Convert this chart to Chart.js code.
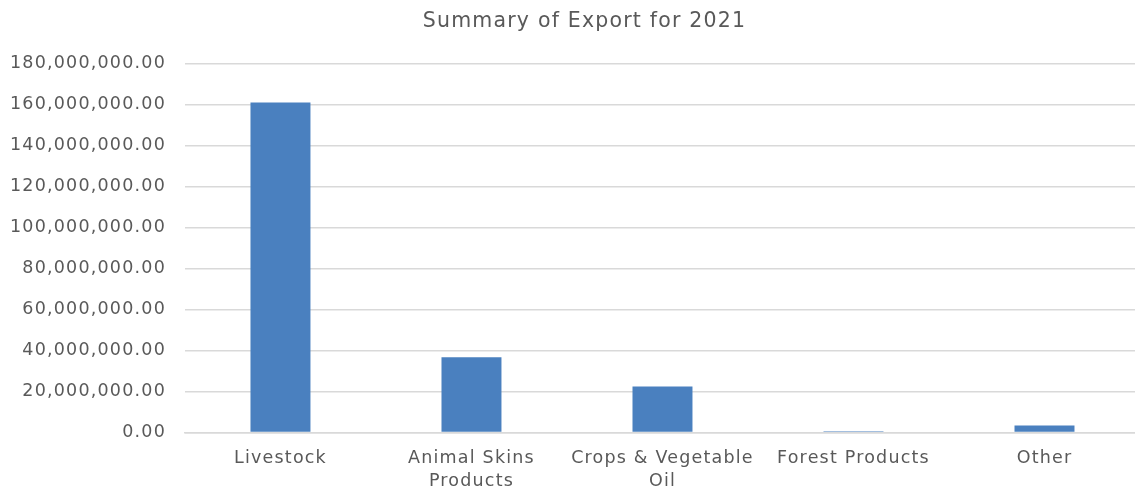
<!DOCTYPE html>
<html>
<head>
<meta charset="utf-8">
<script src="https://cdn.jsdelivr.net/npm/chart.js@4"></script>
<style>
html,body{margin:0;padding:0;background:#fff;overflow:hidden;}
#wrap{width:1170px;height:491px;position:relative;}
</style>
</head>
<body>
<div id="wrap"><canvas id="c" width="1170" height="491"></canvas></div>
<script>
const categories = ["Livestock", ["Animal Skins", "Products"], ["Crops & Vegetable", "Oil"], "Forest Products", "Other"];
const exportValues = [161000000, 36700000, 22400000, 650000, 3400000];
const yTicks = [0, 20000000, 40000000, 60000000, 80000000, 100000000, 120000000, 140000000, 160000000, 180000000];
const chartTitle = "Summary of Export for 2021";

const fontFamily = "'DejaVu Sans', sans-serif";
const spacingPlugin = {
  id: 'spacing',
  beforeInit(chart) { chart.ctx.letterSpacing = '1.2px'; },
  beforeUpdate(chart) { chart.ctx.letterSpacing = '1.2px'; },
  afterLayout(chart) {
    if (chart.titleBlock) { chart.titleBlock.left += 19; chart.titleBlock.right += 19; }
  },
  beforeDraw(chart) { chart.ctx.letterSpacing = '1.2px'; }
};
new Chart(document.getElementById('c'), {
  type: 'bar',
  plugins: [spacingPlugin],
  data: {
    labels: categories,
    datasets: [{
      data: exportValues,
      backgroundColor: '#4a80bf',
      barPercentage: 0.314,
      categoryPercentage: 1
    }]
  },
  options: {
    responsive: false,
    animation: false,
    layout: { padding: { left: -9, right: 30, top: 9, bottom: -17 } },
    plugins: {
      legend: { display: false },
      tooltip: { enabled: false },
      title: {
        display: true,
        text: chartTitle,
        color: '#595959',
        font: { family: fontFamily, size: 20.5, weight: 'normal' },
        padding: { top: 0, bottom: 30 }
      }
    },
    scales: {
      x: {
        grid: { display: false, drawTicks: false },
        border: { display: true, color: '#d9d9d9', width: 1.5 },
        ticks: {
          color: '#595959',
          font: { family: fontFamily, size: 17.5, lineHeight: 1.3 },
          padding: 15,
          maxRotation: 0,
          autoSkip: false
        }
      },
      y: {
        min: 0,
        max: 180000000,
        afterBuildTicks: (axis) => { axis.ticks = yTicks.map(v => ({ value: v })); },
        grid: { color: '#d9d9d9', lineWidth: 1.5, drawTicks: false },
        border: { display: false },
        ticks: {
          color: '#595959',
          font: { family: fontFamily, size: 17.5 },
          padding: 19,
          callback: (v) => Number(v).toLocaleString('en-US', { minimumFractionDigits: 2, maximumFractionDigits: 2 })
        }
      }
    }
  }
});
</script>
</body>
</html>
